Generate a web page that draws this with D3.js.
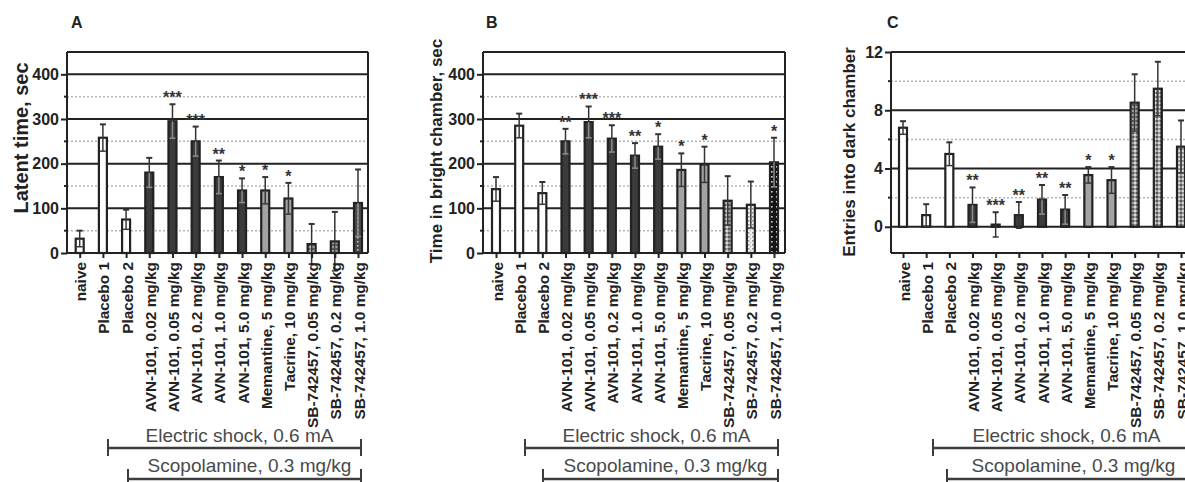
<!DOCTYPE html>
<html>
<head>
<meta charset="utf-8">
<script src="https://cdn.jsdelivr.net/npm/d3@7/dist/d3.min.js"></script>
<style>
  html, body { margin: 0; padding: 0; background: #fff; }
  svg { display: block; font-family: "Liberation Sans", Arial, sans-serif; }
</style>
</head>
<body>
<svg id="chart" width="1185" height="482"></svg>
<script>
// Treatment groups (shared by all three panels)
const categories = [
  "naive", "Placebo 1", "Placebo 2",
  "AVN-101, 0.02 mg/kg", "AVN-101, 0.05 mg/kg", "AVN-101, 0.2 mg/kg",
  "AVN-101, 1.0 mg/kg", "AVN-101, 5.0 mg/kg",
  "Memantine, 5 mg/kg", "Tacrine, 10 mg/kg",
  "SB-742457, 0.05 mg/kg", "SB-742457, 0.2 mg/kg", "SB-742457, 1.0 mg/kg"
];

// A: latent time, sec (mean, SEM, significance)
const latentMean = [32, 258, 75, 180, 295, 250, 170, 140, 140, 122, 20, 26, 112];
const latentErr  = [18, 30, 22, 33, 38, 33, 37, 27, 30, 35, 45, 66, 75];
const latentSig  = ["", "", "", "", "***", "***", "**", "*", "*", "*", "", "", ""];

// B: time in bright chamber, sec
const brightMean = [143, 285, 134, 250, 293, 256, 218, 238, 186, 198, 117, 108, 203];
const brightErr  = [27, 27, 25, 28, 35, 30, 28, 28, 37, 40, 55, 52, 55];
const brightSig  = ["", "", "", "**", "***", "***", "**", "*", "*", "*", "", "", "*"];

// C: entries into dark chamber
const entriesMean = [6.8, 0.8, 5.0, 1.5, 0.15, 0.8, 1.87, 1.18, 3.55, 3.2, 8.52, 9.48, 5.5];
const entriesErr  = [0.45, 0.75, 0.8, 1.2, 0.85, 0.9, 1.0, 1.0, 0.55, 0.9, 1.95, 1.85, 1.8];
const entriesSig  = ["", "", "", "**", "***", "**", "**", "**", "*", "*", "", "", ""];

// Y axis ticks
const timeMajorTicks = [0, 100, 200, 300, 400];
const timeMinorTicks = [50, 150, 250, 350];
const entriesMajorTicks = [0, 4, 8, 12];
const entriesMinorTicks = [2, 6, 10];

// Bracket captions under the group labels
const shockLabel = "Electric shock, 0.6 mA";
const scopLabel = "Scopolamine, 0.3 mg/kg";

const svg = d3.select("#chart");
const defs = svg.append("defs");

// Fill patterns for the SB-742457 groups
function pattern(id, bg, size, cells) {
  const p = defs.append("pattern").attr("id", id)
    .attr("patternUnits", "userSpaceOnUse").attr("width", size).attr("height", size);
  p.append("rect").attr("width", size).attr("height", size).attr("fill", bg);
  cells.forEach(c => p.append("rect").attr("x", c[0]).attr("y", c[1])
    .attr("width", c[2]).attr("height", c[2]).attr("fill", c[3]));
}
pattern("checker", "#9a9a9a", 4, [[0, 0, 2, "#5a5a5a"], [2, 2, 2, "#d8d8d8"]]);
pattern("darkdots", "#4a4a4a", 4, [[1, 1, 1.5, "#c8c8c8"]]);
pattern("blackdots", "#151515", 5, [[1, 1, 1.6, "#dddddd"]]);
pattern("lightdiag", "#f0f0f0", 4, [[0, 0, 1.5, "#8a8a8a"], [2, 2, 1.2, "#b0b0b0"]]);

// Bar fill per group index, per panel
const whiteFill = "#ffffff", darkFill = "#3b3b3b", greyFill = "#a3a3a3";
const baseFills = [whiteFill, whiteFill, whiteFill, darkFill, darkFill, darkFill, darkFill, darkFill, greyFill, greyFill];
const fillsA = baseFills.concat(["url(#checker)", "url(#checker)", "url(#darkdots)"]);
const fillsB = baseFills.concat(["url(#checker)", "url(#lightdiag)", "url(#blackdots)"]);
const fillsC = baseFills.concat(["url(#checker)", "url(#checker)", "url(#checker)"]);

const panels = [
  {
    letter: "A", letterX: 71, yTitle: "Latent time, sec", yTitleX: 28, yTitleY: 138, yTitleSize: 20,
    mean: latentMean, err: latentErr, sig: latentSig, fills: fillsA,
    left: 67, right: 368, first: 79.7, last: 358,
    domain: [0, 450], majors: timeMajorTicks, minors: timeMinorTicks,
    shock: [108, 361], scop: [128, 361]
  },
  {
    letter: "B", letterX: 486, yTitle: "Time in bright chamber, sec", yTitleX: 442, yTitleY: 151, yTitleSize: 17,
    mean: brightMean, err: brightErr, sig: brightSig, fills: fillsB,
    left: 483, right: 785, first: 496, last: 774,
    domain: [0, 450], majors: timeMajorTicks, minors: timeMinorTicks,
    shock: [525, 778], scop: [543, 778]
  },
  {
    letter: "C", letterX: 887, yTitle: "Entries into dark chamber", yTitleX: 855, yTitleY: 152, yTitleSize: 17,
    mean: entriesMean, err: entriesErr, sig: entriesSig, fills: fillsC,
    left: 891, right: 1192, first: 903, last: 1181,
    domain: [-1.8, 12], majors: entriesMajorTicks, minors: entriesMinorTicks,
    shock: [933, 1190], scop: [947, 1190]
  }
];

const plotTop = 52, plotBottom = 253;
const ink = "#222";

panels.forEach(p => {
  const g = svg.append("g");
  const x = d3.scalePoint().domain(categories).range([p.first, p.last]);
  const y = d3.scaleLinear().domain(p.domain).range([plotBottom, plotTop]);

  // dotted minor grid
  g.selectAll(".minor").data(p.minors).join("line")
    .attr("x1", p.left).attr("x2", p.right)
    .attr("y1", d => y(d)).attr("y2", d => y(d))
    .attr("stroke", "#b5b5b5").attr("stroke-width", 1.5).attr("stroke-dasharray", "2,2");

  // solid major grid
  g.selectAll(".major").data(p.majors).join("line")
    .attr("x1", p.left).attr("x2", p.right)
    .attr("y1", d => y(d)).attr("y2", d => y(d))
    .attr("stroke", ink).attr("stroke-width", 2);

  // frame: top, bottom, right
  g.append("line").attr("x1", p.left).attr("x2", p.right)
    .attr("y1", y(p.domain[1])).attr("y2", y(p.domain[1])).attr("stroke", ink).attr("stroke-width", 2);
  g.append("line").attr("x1", p.left).attr("x2", p.right)
    .attr("y1", y(p.domain[0])).attr("y2", y(p.domain[0])).attr("stroke", ink).attr("stroke-width", 2);
  g.append("line").attr("x1", p.right).attr("x2", p.right)
    .attr("y1", plotTop).attr("y2", plotBottom).attr("stroke", ink).attr("stroke-width", 2);

  // bars
  const bw = 8;
  const rows = categories.map((c, i) => ({ c, i, v: p.mean[i], e: p.err[i], s: p.sig[i], f: p.fills[i] }));
  g.selectAll(".bar").data(rows).join("rect")
    .attr("x", d => x(d.c) - bw / 2)
    .attr("y", d => Math.min(y(d.v), y(0)))
    .attr("width", bw)
    .attr("height", d => Math.abs(y(0) - y(d.v)))
    .attr("fill", d => d.f)
    .attr("stroke", ink).attr("stroke-width", 2.2);

  // error bars: upper whisker dark, lower whisker inside the bar
  const cap = 3;
  rows.forEach(d => {
    const cx = x(d.c);
    const inner = (d.f === darkFill || d.f.indexOf("dots") >= 0) ? "#8c8c8c" : "#3a3a3a";
    g.append("line").attr("x1", cx).attr("x2", cx)
      .attr("y1", y(d.v)).attr("y2", y(d.v + d.e)).attr("stroke", "#333").attr("stroke-width", 1.5);
    g.append("line").attr("x1", cx - cap).attr("x2", cx + cap)
      .attr("y1", y(d.v + d.e)).attr("y2", y(d.v + d.e)).attr("stroke", "#333").attr("stroke-width", 2);
    const lowColor = (d.v - d.e) < 0 ? "#333" : inner;
    g.append("line").attr("x1", cx).attr("x2", cx)
      .attr("y1", y(d.v)).attr("y2", y(d.v - d.e)).attr("stroke", lowColor).attr("stroke-width", 1.5);
    g.append("line").attr("x1", cx - cap).attr("x2", cx + cap)
      .attr("y1", y(d.v - d.e)).attr("y2", y(d.v - d.e)).attr("stroke", lowColor).attr("stroke-width", 1.5);
  });

  // significance asterisks
  g.selectAll(".sig").data(rows.filter(d => d.s)).join("text")
    .attr("x", d => x(d.c)).attr("y", d => y(d.v + d.e) - 1)
    .attr("text-anchor", "middle")
    .attr("font-size", 16).attr("font-weight", "bold").attr("fill", "#333")
    .text(d => d.s);

  // y axis
  const yAxis = g.append("g").attr("transform", `translate(${p.left},0)`)
    .call(d3.axisLeft(y).tickValues(p.majors).tickSize(6).tickPadding(2).tickFormat(d3.format("d")));
  yAxis.select(".domain").remove();
  yAxis.selectAll("line").attr("stroke", ink).attr("stroke-width", 2);
  yAxis.selectAll("text").attr("font-size", 16).attr("font-weight", "bold").attr("fill", ink)
    .attr("font-family", "Liberation Sans, Arial, sans-serif");
  g.selectAll(".minorTick").data(p.minors).join("line")
    .attr("x1", p.left - 3).attr("x2", p.left)
    .attr("y1", d => y(d)).attr("y2", d => y(d)).attr("stroke", ink).attr("stroke-width", 2);
  g.append("line").attr("x1", p.left).attr("x2", p.left)
    .attr("y1", plotTop).attr("y2", plotBottom).attr("stroke", ink).attr("stroke-width", 2);

  // x axis ticks and rotated group labels
  const xAxis = g.append("g").attr("transform", `translate(0,${plotBottom})`)
    .call(d3.axisBottom(x).tickSize(5).tickFormat(""));
  xAxis.select(".domain").remove();
  xAxis.selectAll("line").attr("stroke", ink).attr("stroke-width", 2);
  xAxis.selectAll(".tick").append("text")
    .attr("transform", "translate(6,9) rotate(-90)")
    .attr("text-anchor", "end")
    .attr("font-size", 15.4).attr("font-weight", "bold").attr("fill", ink)
    .attr("font-family", "Liberation Sans, Arial, sans-serif")
    .text(d => d);

  // panel letter
  g.append("text").attr("x", p.letterX).attr("y", 28)
    .attr("font-size", 16).attr("font-weight", "bold").attr("fill", ink).text(p.letter);

  // y axis title
  g.append("text")
    .attr("transform", `translate(${p.yTitleX},${p.yTitleY}) rotate(-90)`)
    .attr("text-anchor", "middle")
    .attr("font-size", p.yTitleSize).attr("font-weight", "bold").attr("fill", ink)
    .text(p.yTitle);

  // treatment brackets
  function bracket(x1, x2, yy, label, labelY, tickUp, tickDown) {
    g.append("line").attr("x1", x1).attr("x2", x2).attr("y1", yy).attr("y2", yy)
      .attr("stroke", "#3c3c3c").attr("stroke-width", 2.5);
    [x1, x2].forEach(xx => g.append("line").attr("x1", xx).attr("x2", xx)
      .attr("y1", yy - tickUp).attr("y2", yy + tickDown).attr("stroke", "#3c3c3c").attr("stroke-width", 2));
    g.append("text").attr("x", (x1 + x2) / 2 + 5).attr("y", labelY)
      .attr("text-anchor", "middle").attr("font-size", 19).attr("fill", "#4a4a4a").text(label);
  }
  bracket(p.shock[0], p.shock[1], 448, shockLabel, 442, 9, 8);
  bracket(p.scop[0], p.scop[1], 479, scopLabel, 472, 10, 4);
});
</script>
</body>
</html>
